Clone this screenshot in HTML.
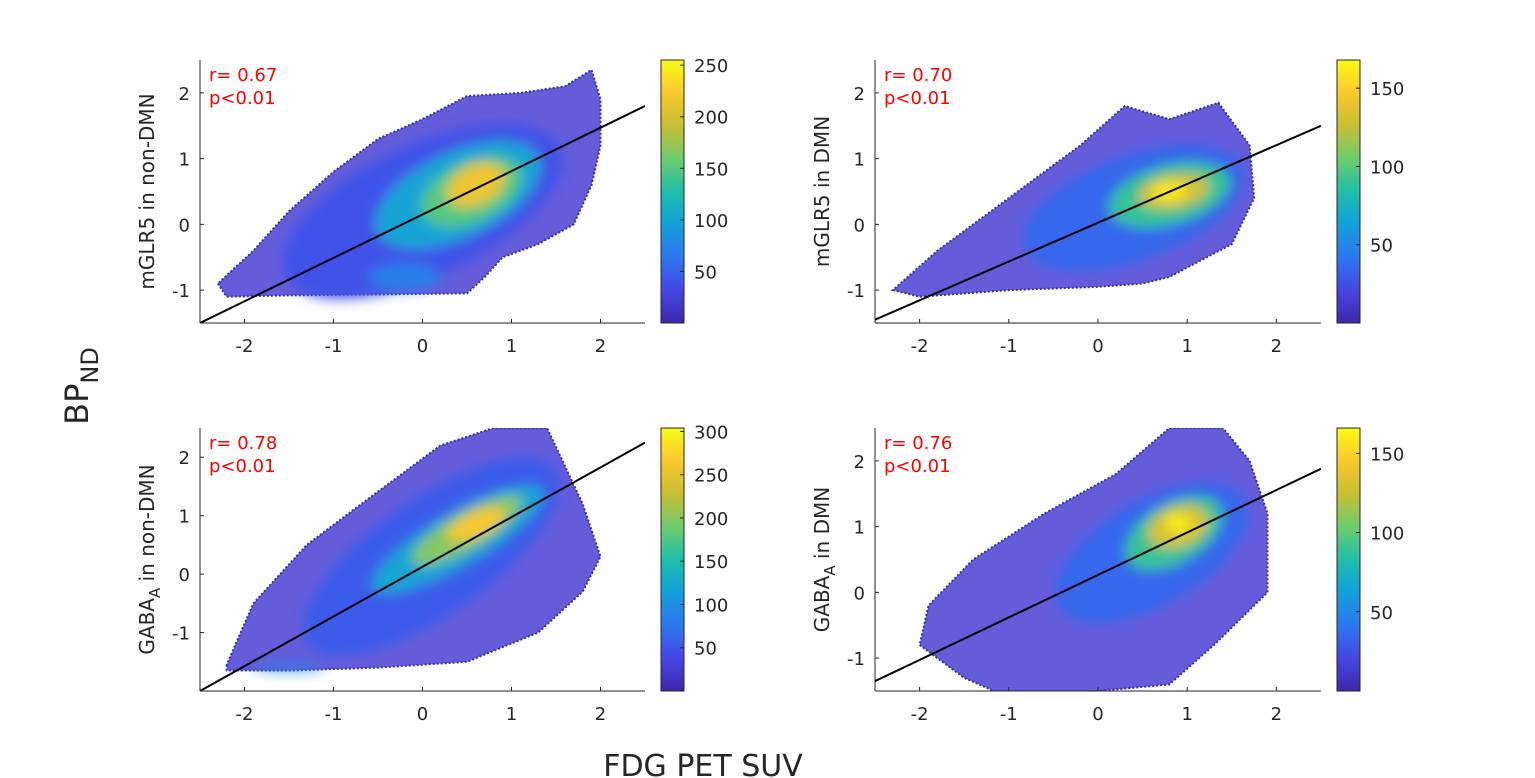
<!DOCTYPE html>
<html><head><meta charset="utf-8">
<style>
body{margin:0;background:#fff;}
svg{display:block;font-family:"DejaVu Sans","Liberation Sans",sans-serif;}
</style></head>
<body>
<svg id="fig" width="1535" height="778" viewBox="0 0 1535 778" xmlns="http://www.w3.org/2000/svg">
<text x="0" y="0" transform="translate(88,386) rotate(-90)" text-anchor="middle" font-size="32" fill="#262626">BP<tspan dy="10" font-size="24">ND</tspan></text>
<text x="703" y="776" text-anchor="middle" font-size="30" fill="#262626">FDG PET SUV</text>
</svg>
<script>
const NS='http://www.w3.org/2000/svg';
const svg=document.getElementById('fig');
// ---- data ----
const xTicks=[-2,-1,0,1,2];
const p1YTicks=[-1,0,1,2]; const p2YTicks=[-1,0,1,2]; const p3YTicks=[-1,0,1,2]; const p4YTicks=[-1,0,1,2];
const p1CbTicks=[50,100,150,200,250]; const p2CbTicks=[50,100,150]; const p3CbTicks=[50,100,150,200,250,300]; const p4CbTicks=[50,100,150];
const p1Max=255, p2Max=168, p3Max=304, p4Max=166;
const p1Line=[[-2.5,-1.5],[2.5,1.8]];
const p2Line=[[-2.5,-1.45],[2.5,1.5]];
const p3Line=[[-2.5,-2.0],[2.5,2.25]];
const p4Line=[[-2.5,-1.35],[2.5,1.88]];
const p1Env=[[-2.3,-0.9],[-2.2,-1.1],[-1.5,-1.08],[0.5,-1.05],[0.7,-0.8],[0.9,-0.5],[1.3,-0.3],[1.7,0],[1.9,0.6],[2.0,1.2],[2.0,1.9],[1.9,2.35],[1.6,2.1],[1.1,2.0],[0.5,1.95],[0,1.6],[-0.5,1.3],[-1,0.8],[-1.5,0.2],[-1.9,-0.4]];
const p2Env=[[-2.3,-1.0],[-2,-1.1],[-1,-1.0],[0,-0.95],[0.5,-0.9],[0.8,-0.8],[1.5,-0.3],[1.75,0.4],[1.7,1.2],[1.35,1.85],[0.8,1.6],[0.3,1.8],[-0.2,1.2],[-1.0,0.4],[-1.8,-0.4]];
const p3Env=[[-2.2,-1.55],[-2.2,-1.65],[-1.5,-1.65],[-0.5,-1.6],[0.5,-1.5],[1.3,-1.0],[1.8,-0.3],[2.0,0.3],[1.8,1.2],[1.4,2.5],[0.8,2.5],[0.2,2.2],[-0.6,1.3],[-1.3,0.5],[-1.9,-0.5]];
const p4Env=[[-2,-0.8],[-1.5,-1.3],[-1,-1.6],[0,-1.5],[0.8,-1.4],[1.3,-0.8],[1.9,0],[1.9,1.2],[1.7,2.0],[1.4,2.5],[0.8,2.5],[0.2,1.8],[-0.6,1.2],[-1.4,0.5],[-1.9,-0.2]];
// density clusters: [cx, cy, rx, ry, angleDeg, count]
const p1Dens=[[0.0,0.2,1.7,1.0,-25,40],[-0.2,-0.8,0.4,0.2,0,70],[0.4,0.45,1.0,0.65,-25,100],[0.55,0.5,0.6,0.45,-25,150],[0.6,0.6,0.35,0.3,-25,215]];
const p2Dens=[[0.4,0.25,1.3,0.8,-20,35],[0.8,0.45,0.7,0.45,-15,90],[0.85,0.5,0.4,0.25,-10,130],[0.8,0.5,0.2,0.15,0,160]];
const p3Dens=[[0.1,0.3,1.7,1.0,-35,55],[-1.5,-1.6,0.4,0.06,0,90],[0.4,0.6,1.1,0.45,-30,120],[0.5,0.75,0.7,0.3,-30,200],[0.6,0.85,0.35,0.2,-25,265]];
const p4Dens=[[0.6,0.6,1.2,0.8,-30,35],[0.85,0.9,0.6,0.45,-30,90],[0.9,1.0,0.35,0.3,-20,130],[0.9,1.05,0.15,0.15,0,160]];
// ---- layout ----
const panels=[
 {id:'p1',box:[200,60,645,323],yr:[-1.5,2.5],cb:[661,684],env:p1Env,dens:p1Dens,line:p1Line,yt:p1YTicks,cbt:p1CbTicks,max:p1Max,r:'r= 0.67',lab:['mGLR5 in non-DMN',null]},
 {id:'p2',box:[875,60,1321,323],yr:[-1.5,2.5],cb:[1337,1360],env:p2Env,dens:p2Dens,line:p2Line,yt:p2YTicks,cbt:p2CbTicks,max:p2Max,r:'r= 0.70',lab:['mGLR5 in DMN',null]},
 {id:'p3',box:[200,428,645,691],yr:[-2,2.5],cb:[661,684],env:p3Env,dens:p3Dens,line:p3Line,yt:p3YTicks,cbt:p3CbTicks,max:p3Max,r:'r= 0.78',lab:['GABA','in non-DMN']},
 {id:'p4',box:[875,428,1321,691],yr:[-1.5,2.5],cb:[1337,1360],env:p4Env,dens:p4Dens,line:p4Line,yt:p4YTicks,cbt:p4CbTicks,max:p4Max,r:'r= 0.76',lab:['GABA','in DMN']}
];
const parula=[[62,38,168],[70,70,230],[45,120,240],[20,160,220],[30,190,170],[110,205,110],[200,190,50],[250,200,45],[249,251,21]];
function cmap(t){t=Math.max(0,Math.min(1,t));const f=t*(parula.length-1),i=Math.min(parula.length-2,Math.floor(f)),u=f-i;
 const a=parula[i],b=parula[i+1];return 'rgb('+a.map((v,k)=>Math.round(v+(b[k]-v)*u)).join(',')+')';}
function mk(tag,attrs,parent){const e=document.createElementNS(NS,tag);for(const k in attrs)e.setAttribute(k,attrs[k]);(parent||svg).appendChild(e);return e;}
const defs=mk('defs',{});
const grad=mk('linearGradient',{id:'cbg',x1:0,y1:1,x2:0,y2:0},defs);
for(let i=0;i<=8;i++)mk('stop',{offset:i/8,'stop-color':cmap(i/8)},grad);
const blur=mk('filter',{id:'bl',x:'-20%',y:'-20%',width:'140%',height:'140%'},defs);
mk('feGaussianBlur',{stdDeviation:6},blur);
panels.forEach(p=>{
 const [x0,y0,x1,y1]=p.box;
 const sx=v=>x0+(v+2.5)/5*(x1-x0);
 const sy=v=>y1-(v-p.yr[0])/(p.yr[1]-p.yr[0])*(y1-y0);
 const kx=(x1-x0)/5, ky=(y1-y0)/(p.yr[1]-p.yr[0]);
 const g=mk('g',{});
 
 
 const cp=mk('clipPath',{id:'c'+p.id},defs);mk('rect',{x:x0,y:y0,width:x1-x0,height:y1-y0},cp);
 const pg=mk('g',{'clip-path':'url(#c'+p.id+')'},g);
 const env=mk('polygon',{points:p.env.map(q=>sx(q[0])+','+sy(q[1])).join(' '),fill:'#4a40d4','fill-opacity':0.85,stroke:'#3a2aa8','stroke-width':2,'stroke-dasharray':'2 2'},pg);
 
 
 const dg=mk('g',{filter:'url(#bl)'},pg);
 p.dens.forEach(d=>{
  const e=mk('ellipse',{cx:sx(d[0]),cy:sy(d[1]),rx:d[2]*kx,ry:d[3]*ky,fill:cmap(d[5]/p.max),transform:'rotate('+d[4]+' '+sx(d[0])+' '+sy(d[1])+')'},dg);
  
  
 });
 const ln=mk('line',{x1:sx(p.line[0][0]),y1:sy(p.line[0][1]),x2:sx(p.line[1][0]),y2:sy(p.line[1][1]),stroke:'#000','stroke-width':2},pg);
 
 
 // axes
 mk('line',{x1:x0,y1:y0,x2:x0,y2:y1,stroke:'#262626','stroke-width':1},g);
 mk('line',{x1:x0,y1:y1,x2:x1,y2:y1,stroke:'#262626','stroke-width':1},g);
 xTicks.forEach(v=>{mk('line',{x1:sx(v),y1:y1,x2:sx(v),y2:y1-4,stroke:'#262626'},g);
  const t=mk('text',{x:sx(v),y:y1+29,'text-anchor':'middle','font-size':18,fill:'#262626'},g);t.textContent=v;
  
  });
 p.yt.forEach(v=>{mk('line',{x1:x0,y1:sy(v),x2:x0+4,y2:sy(v),stroke:'#262626'},g);
  const t=mk('text',{x:x0-10,y:sy(v)+7,'text-anchor':'end','font-size':18,fill:'#262626'},g);t.textContent=v;
  
  });
 // y label
 const yl=mk('text',{transform:'translate('+(x0-46)+','+((y0+y1)/2)+') rotate(-90)','text-anchor':'middle','font-size':20,fill:'#262626'},g);
 
 
 if(p.lab[1]){yl.innerHTML='GABA<tspan dy="6" font-size="15">A</tspan><tspan dy="-6"> '+p.lab[1]+'</tspan>';}else yl.textContent=p.lab[0];
 // stats
 const st=mk('text',{x:x0+9,y:y0+21,'font-size':18,fill:'#ff0000'},g);st.textContent=p.r;
 
 
 const pv=mk('text',{x:x0+9,y:y0+44,'font-size':18,fill:'#ff0000'},g);pv.textContent='p<0.01';
 
 
 // colorbar
 const [c0,c1]=p.cb;
 const cb=mk('rect',{x:c0,y:y0,width:c1-c0,height:y1-y0,fill:'url(#cbg)',stroke:'#262626','stroke-width':1},g);
 
 
 p.cbt.forEach(v=>{const yy=y1-v/p.max*(y1-y0);
  mk('line',{x1:c1-4,y1:yy,x2:c1,y2:yy,stroke:'#262626'},g);
  const t=mk('text',{x:c1+10,y:yy+7,'font-size':18,fill:'#262626'},g);t.textContent=v;
  
  });
});
</script>
</body></html>
